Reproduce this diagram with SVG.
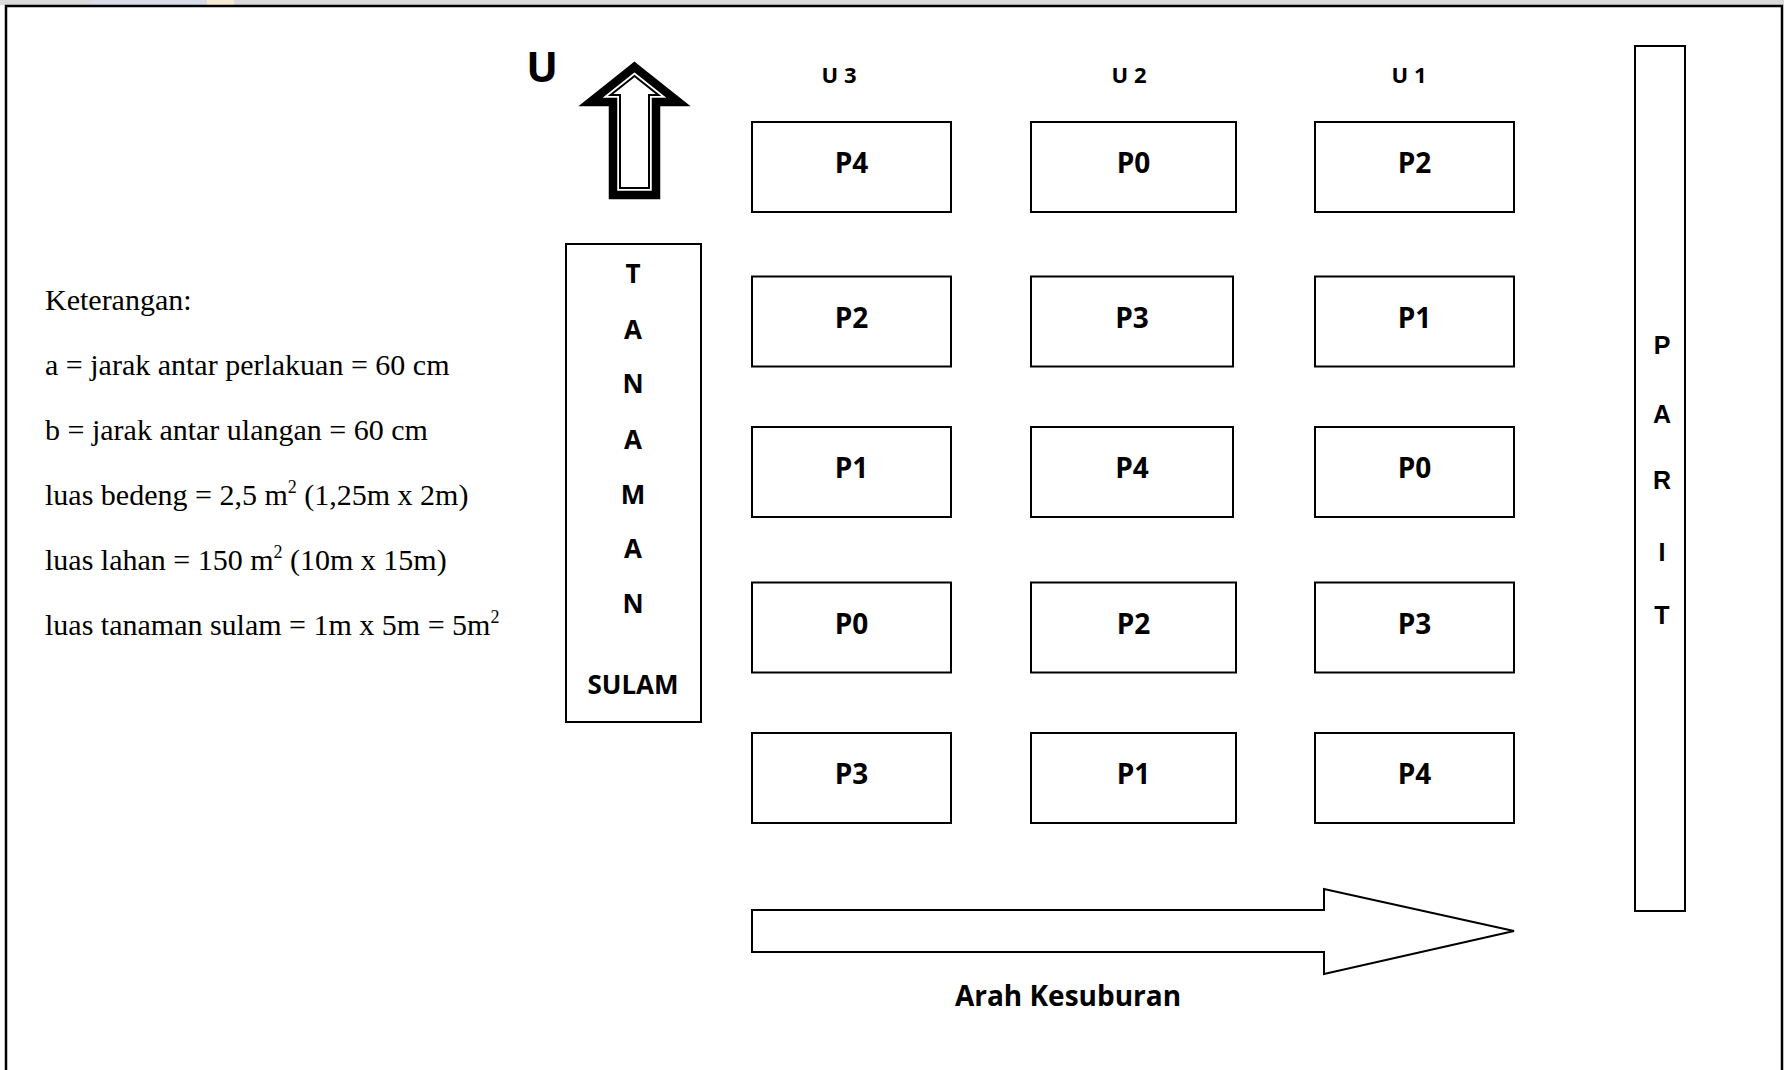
<svg xmlns="http://www.w3.org/2000/svg" width="1784" height="1070" viewBox="0 0 1784 1070">
<style>
.plot{fill:#fff;stroke:#000;stroke-width:2}
.pl{font-family:"Open Sans",Lato,sans-serif;font-weight:700;font-size:28px;text-anchor:middle;fill:#000}
.ul{font-family:"Open Sans",Lato,sans-serif;font-weight:700;font-size:22px;text-anchor:middle;fill:#000}
.ts{font-family:"Open Sans",Lato,sans-serif;font-weight:700;font-size:26px;text-anchor:middle;fill:#000}
.pr{font-family:"Liberation Sans",Arial,sans-serif;font-weight:700;font-size:25px;text-anchor:middle;fill:#000}
.lg{font-family:"Liberation Serif","Times New Roman",serif;font-size:30px;fill:#000}
.sup{font-size:18px}
</style>
<rect x="0" y="0" width="1784" height="1070" fill="#fff"/>
<g id="watermark-strip">
<rect x="0" y="0" width="1784" height="5" fill="#dadada"/>
<rect x="92" y="0" width="115" height="5" fill="#d9dde8"/>
<rect x="207" y="0" width="27" height="5" fill="#f6ecd6"/>
</g>
<g id="frame" fill="none" stroke="#000" stroke-width="2.5">
<polyline points="6,1070 6,6 1782,6 1782,1070"/>
</g>
<g id="north">
<text x="542" y="82" font-family="'Open Sans',Lato,sans-serif" font-weight="700" font-size="42" text-anchor="middle">U</text>
<polygon points="634.5,67 678.5,102 656,102 656,195 613,195 613,102 590.5,102" fill="#fff" stroke="#000" stroke-width="8.5" stroke-linejoin="miter"/>
<polygon points="634.5,76 658.4,95 649,95 649,188 620,188 620,95 610.6,95" fill="none" stroke="#000" stroke-width="2"/>
</g>
<g id="headers">
<text class="ul" x="839" y="83">U 3</text>
<text class="ul" x="1129" y="83">U 2</text>
<text class="ul" x="1409" y="83">U 1</text>
</g>
<g id="legend">
<text class="lg" x="45" y="310">Keterangan:</text>
<text class="lg" x="45" y="375">a = jarak antar perlakuan = 60 cm</text>
<text class="lg" x="45" y="440">b = jarak antar ulangan = 60 cm</text>
<text class="lg" x="45" y="505">luas bedeng = 2,5 m<tspan class="sup" dy="-12">2</tspan><tspan dy="12"> (1,25m x 2m)</tspan></text>
<text class="lg" x="45" y="570">luas lahan = 150 m<tspan class="sup" dy="-12">2</tspan><tspan dy="12"> (10m x 15m)</tspan></text>
<text class="lg" x="45" y="635">luas tanaman sulam = 1m x 5m = 5m<tspan class="sup" dy="-12">2</tspan></text>
</g>
<g id="tanaman-sulam">
<rect class="plot" x="566" y="244" width="135" height="478"/>
<text class="ts" x="633" y="283">T</text>
<text class="ts" x="633" y="339">A</text>
<text class="ts" x="633" y="393">N</text>
<text class="ts" x="633" y="449">A</text>
<text class="ts" x="633" y="504">M</text>
<text class="ts" x="633" y="558">A</text>
<text class="ts" x="633" y="613">N</text>
<text class="ts" x="633" y="694">SULAM</text>
</g>
<g id="parit">
<rect class="plot" x="1635" y="46" width="50" height="865"/>
<text class="pr" x="1662" y="354">P</text>
<text class="pr" x="1662" y="423">A</text>
<text class="pr" x="1662" y="489">R</text>
<text class="pr" x="1662" y="561">I</text>
<text class="pr" x="1662" y="624">T</text>
</g>
<g id="u3-r1"><rect class="plot" x="752" y="122" width="199" height="90"/><text class="pl" x="851.5" y="173">P4</text></g>
<g id="u2-r1"><rect class="plot" x="1031" y="122" width="205" height="90"/><text class="pl" x="1133.5" y="173">P0</text></g>
<g id="u1-r1"><rect class="plot" x="1315" y="122" width="199" height="90"/><text class="pl" x="1414.5" y="173">P2</text></g>
<g id="u3-r2"><rect class="plot" x="752" y="276.5" width="199" height="90"/><text class="pl" x="851.5" y="328">P2</text></g>
<g id="u2-r2"><rect class="plot" x="1031" y="276.5" width="202" height="90"/><text class="pl" x="1132" y="328">P3</text></g>
<g id="u1-r2"><rect class="plot" x="1315" y="276.5" width="199" height="90"/><text class="pl" x="1414.5" y="328">P1</text></g>
<g id="u3-r3"><rect class="plot" x="752" y="427" width="199" height="90"/><text class="pl" x="851.5" y="478">P1</text></g>
<g id="u2-r3"><rect class="plot" x="1031" y="427" width="202" height="90"/><text class="pl" x="1132" y="478">P4</text></g>
<g id="u1-r3"><rect class="plot" x="1315" y="427" width="199" height="90"/><text class="pl" x="1414.5" y="478">P0</text></g>
<g id="u3-r4"><rect class="plot" x="752" y="582.5" width="199" height="90"/><text class="pl" x="851.5" y="634">P0</text></g>
<g id="u2-r4"><rect class="plot" x="1031" y="582.5" width="205" height="90"/><text class="pl" x="1133.5" y="634">P2</text></g>
<g id="u1-r4"><rect class="plot" x="1315" y="582.5" width="199" height="90"/><text class="pl" x="1414.5" y="634">P3</text></g>
<g id="u3-r5"><rect class="plot" x="752" y="733" width="199" height="90"/><text class="pl" x="851.5" y="784">P3</text></g>
<g id="u2-r5"><rect class="plot" x="1031" y="733" width="205" height="90"/><text class="pl" x="1133.5" y="784">P1</text></g>
<g id="u1-r5"><rect class="plot" x="1315" y="733" width="199" height="90"/><text class="pl" x="1414.5" y="784">P4</text></g>
<g id="connectors">
<g id="arah-kesuburan">
<polygon points="752,910 1324,910 1324,889 1514,931 1324,974 1324,952 752,952" fill="#fff" stroke="#000" stroke-width="2" stroke-linejoin="miter"/>
<text x="1068" y="1006" font-family="'Open Sans',Lato,sans-serif" font-weight="700" font-size="28" text-anchor="middle">Arah Kesuburan</text>
</g>
</g>
</svg>
